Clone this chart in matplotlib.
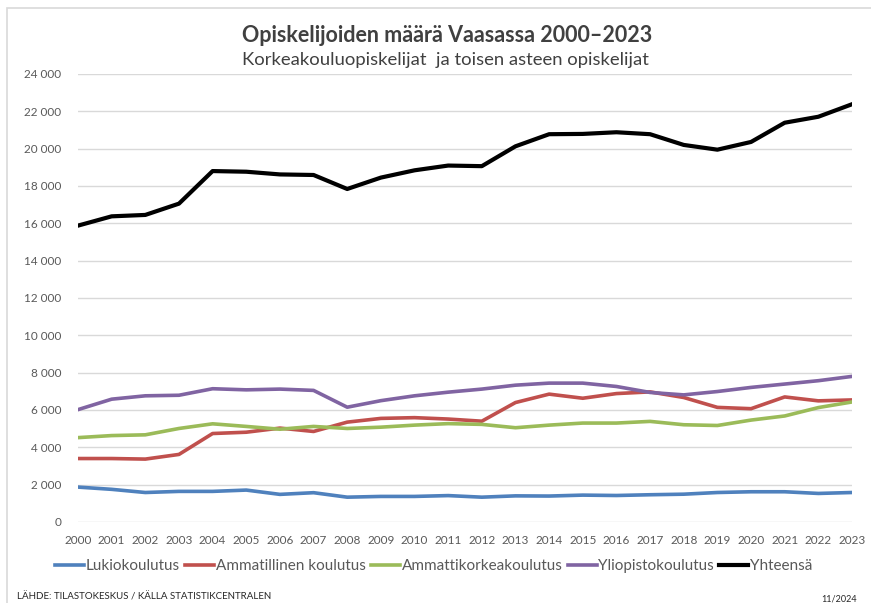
import matplotlib
matplotlib.use('Agg')
import matplotlib.pyplot as plt
from matplotlib.patches import Rectangle
from matplotlib.ticker import FuncFormatter

plt.rcParams['font.family'] = ['Lato', 'DejaVu Sans']

years = list(range(2000, 2024))
lukio = [1870, 1750, 1580, 1640, 1640, 1710, 1480, 1570, 1330, 1370, 1370, 1415,
         1330, 1400, 1390, 1440, 1420, 1460, 1490, 1580, 1620, 1620, 1530, 1580]
ammatillinen = [3400, 3400, 3370, 3620, 4740, 4810, 5030, 4850, 5350, 5550, 5590, 5515,
                5400, 6400, 6850, 6630, 6880, 6970, 6670, 6140, 6070, 6700, 6490, 6540]
amk = [4520, 4630, 4670, 5010, 5260, 5120, 4970, 5120, 5010, 5080, 5190, 5270,
       5230, 5050, 5190, 5300, 5300, 5390, 5210, 5170, 5460, 5680, 6130, 6430]
yliopisto = [6020, 6580, 6760, 6790, 7140, 7080, 7120, 7050, 6150, 6500, 6760, 6955,
             7120, 7330, 7440, 7440, 7260, 6940, 6810, 6990, 7210, 7390, 7570, 7800]
yhteensa = [15877, 16375, 16450, 17055, 18800, 18765, 18620, 18590, 17840, 18450, 18840, 19095,
            19063, 20126, 20775, 20790, 20880, 20775, 20200, 19946, 20360, 21390, 21710, 22380]

series = [
    ('Lukiokoulutus', lukio, '#4F81BD', 2.6),
    ('Ammatillinen koulutus', ammatillinen, '#C0504D', 2.6),
    ('Ammattikorkeakoulutus', amk, '#9BBB59', 2.6),
    ('Yliopistokoulutus', yliopisto, '#8064A2', 2.6),
    ('Yhteensä', yhteensa, '#000000', 3.0),
]

fig = plt.figure(figsize=(8.71, 6.03), dpi=100)
fig.patches.append(Rectangle((7 / 871, -0.02), 1.0, 1 - 8 / 603 + 0.02,
                             transform=fig.transFigure, fill=False,
                             edgecolor='#d9d9d9', linewidth=1.2))

ax = fig.add_axes([78 / 871, 1 - 522 / 603, 774 / 871, 448 / 603])
for name, vals, col, lw in series:
    ax.plot(years, vals, color=col, linewidth=lw, label=name, solid_joinstyle='round')

ax.set_xlim(2000, 2023)
ax.set_ylim(0, 24000)
ax.set_xticks(years)
ax.set_yticks(range(0, 24001, 2000))
ax.yaxis.set_major_formatter(FuncFormatter(lambda v, p: f'{int(v):,}'.replace(',', ' ')))
ax.grid(axis='y', color='#d9d9d9', linewidth=1)
ax.set_axisbelow(True)
for s in ax.spines.values():
    s.set_visible(False)
ax.tick_params(length=0, labelsize=8.5, labelcolor='#595959')
ax.tick_params(axis='y', pad=12)
ax.tick_params(axis='x', pad=9)

fig.text(0.513, 1 - 35 / 603, 'Opiskelijoiden määrä Vaasassa 2000–2023', ha='center', va='center',
         fontsize=15.5, fontweight='bold', color='#404040')
fig.text(0.511, 1 - 60 / 603, 'Korkeakouluopiskelijat  ja toisen asteen opiskelijat', ha='center', va='center',
         fontsize=13.3, color='#404040')

fig.legend(loc='center', bbox_to_anchor=(0.498, 1 - 566 / 603), ncol=5, frameon=False,
           fontsize=11, handlelength=1.9, handletextpad=0.1, columnspacing=0.35,
           labelcolor='#595959')

fig.text(17 / 871, 1 - 597 / 603, 'LÄHDE: TILASTOKESKUS / KÄLLA STATISTIKCENTRALEN', ha='left', va='center',
         fontsize=7, color='#262626')
fig.text(857 / 871, 1 - 599 / 603, '11/2024', ha='right', va='center', fontsize=6.5, color='#262626')

fig.savefig('out.png', dpi=100)
